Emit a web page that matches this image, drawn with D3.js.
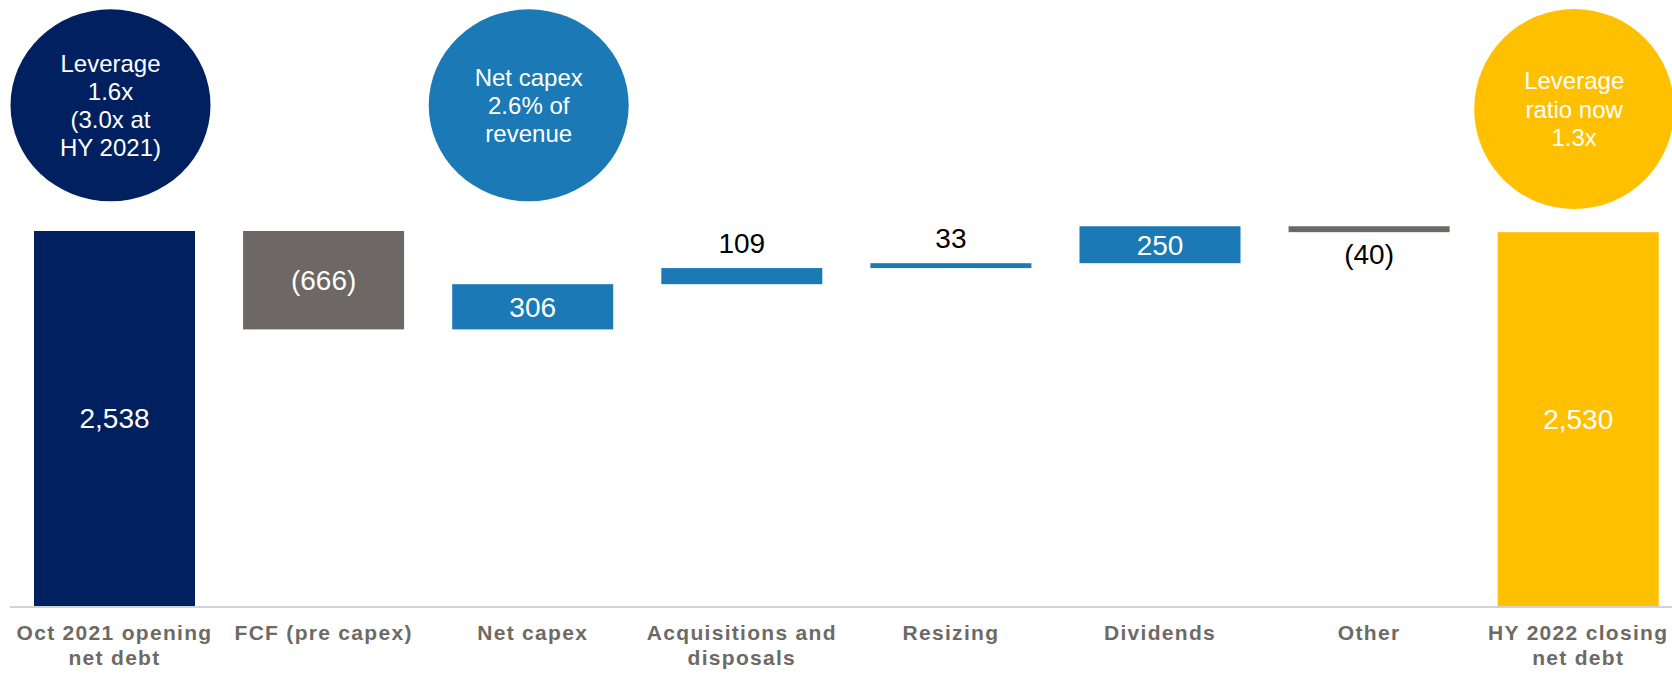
<!DOCTYPE html>
<html>
<head>
<meta charset="utf-8">
<script src="https://cdn.jsdelivr.net/npm/d3@7"></script>
<style>
  html, body { margin: 0; padding: 0; background: #ffffff; }
  svg { display: block; font-family: "Liberation Sans", Arial, Helvetica, sans-serif; }
</style>
</head>
<body>
<script>
// Net debt bridge, £m
const categories = [
  "Oct 2021 opening net debt",
  "FCF (pre capex)",
  "Net capex",
  "Acquisitions and disposals",
  "Resizing",
  "Dividends",
  "Other",
  "HY 2022 closing net debt"
];
const categoryLines = [
  ["Oct 2021 opening", "net debt"],
  ["FCF (pre capex)"],
  ["Net capex"],
  ["Acquisitions and", "disposals"],
  ["Resizing"],
  ["Dividends"],
  ["Other"],
  ["HY 2022 closing", "net debt"]
];
const values = [2538, -666, 306, 109, 33, 250, -40, 2530];
const kinds  = ["total", "delta", "delta", "delta", "delta", "delta", "delta", "total"];

const bubbleCategories = ["Oct 2021 opening net debt", "Net capex", "HY 2022 closing net debt"];
const bubbleTexts = [
  ["Leverage", "1.6x", "(3.0x at", "HY 2021)"],
  ["Net capex", "2.6% of", "revenue"],
  ["Leverage", "ratio now", "1.3x"]
];

const W = 1672, H = 674;
const COLORS = { open: "#002060", close: "#ffc000", up: "#1b79b5", down: "#6d6865" };

// running totals for the waterfall
let running = 0;
const steps = values.map((v, i) => {
  let start, end;
  if (kinds[i] === "total") { start = 0; end = v; running = v; }
  else { start = running; end = running + v; running = end; }
  return { cat: categories[i], value: v, kind: kinds[i], start, end, i };
});

const svg = d3.select("body").append("svg").attr("width", W).attr("height", H);

const x = d3.scaleBand().domain(categories).range([34, 1658.7]).paddingInner(0.23).paddingOuter(0);
const y = d3.scaleLinear().domain([0, 2600]).range([606, 606 - 2600 * 0.14776]);

function barColor(d) {
  if (d.kind === "total") return d.i === 0 ? COLORS.open : COLORS.close;
  return d.value < 0 ? COLORS.down : COLORS.up;
}
const fmt = d3.format(",");
function labelText(d) { return d.value < 0 ? "(" + fmt(-d.value) + ")" : fmt(d.value); }

// baseline
svg.append("line")
  .attr("x1", 10).attr("x2", W)
  .attr("y1", 607).attr("y2", 607)
  .attr("stroke", "#d3d3d3").attr("stroke-width", 2);

// bars
svg.append("g").selectAll("rect").data(steps).join("rect")
  .attr("x", d => x(d.cat))
  .attr("width", x.bandwidth())
  .attr("y", d => y(Math.max(d.start, d.end)))
  .attr("height", d => Math.abs(y(d.start) - y(d.end)))
  .attr("fill", barColor);

// value labels: inside tall bars, outside short ones
svg.append("g").selectAll("text").data(steps).join("text")
  .attr("x", d => x(d.cat) + x.bandwidth() / 2)
  .attr("text-anchor", "middle")
  .attr("font-size", 28)
  .each(function (d) {
    const top = y(Math.max(d.start, d.end));
    const bottom = y(Math.min(d.start, d.end));
    const h = bottom - top;
    const t = d3.select(this);
    if (h >= 30) {
      t.attr("y", (top + bottom) / 2).attr("dy", "0.35em").attr("fill", "#ffffff");
    } else if (d.value >= 0) {
      t.attr("y", top - 15).attr("fill", "#000000");
    } else {
      t.attr("y", bottom + 32).attr("fill", "#000000");
    }
  })
  .text(labelText);

// category axis
const axis = svg.append("g")
  .attr("transform", "translate(0,607)")
  .call(d3.axisBottom(x).tickSize(0).tickSizeOuter(0));
axis.select(".domain").remove();
axis.selectAll(".tick text")
  .attr("fill", "#6d6a66")
  .attr("font-size", 21)
  .attr("font-weight", "bold")
  .attr("font-family", "'Liberation Sans', Arial, sans-serif")
  .attr("letter-spacing", "1.3px")
  .attr("dy", null)
  .attr("y", null)
  .each(function (d, i) {
    const t = d3.select(this);
    t.text(null);
    categoryLines[i].forEach((ln, j) => {
      t.append("tspan").attr("x", 0).attr("y", 33 + j * 25).text(ln);
    });
  });

// commentary bubbles above bars
const bubbleShape = [
  { cy: 105.3, rx: 100, ry: 96 },
  { cy: 105.3, rx: 100, ry: 96 },
  { cy: 109, rx: 100, ry: 100 }
];
const bubbles = svg.append("g").selectAll("g").data(bubbleCategories).join("g")
  .attr("transform", (c, i) => `translate(${x(c) + x.bandwidth() / 2 - 4},${bubbleShape[i].cy})`);
bubbles.append("ellipse")
  .attr("rx", (c, i) => bubbleShape[i].rx)
  .attr("ry", (c, i) => bubbleShape[i].ry)
  .attr("fill", c => barColor(steps[categories.indexOf(c)]));
bubbles.append("text")
  .attr("text-anchor", "middle")
  .attr("fill", "#ffffff")
  .attr("font-size", 24)
  .each(function (c, i) {
    const lines = bubbleTexts[i];
    const t = d3.select(this);
    lines.forEach((ln, j) => {
      t.append("tspan").attr("x", 0)
        .attr("y", 8.7 + (j - (lines.length - 1) / 2) * 28.3)
        .text(ln);
    });
  });
</script>
</body>
</html>
